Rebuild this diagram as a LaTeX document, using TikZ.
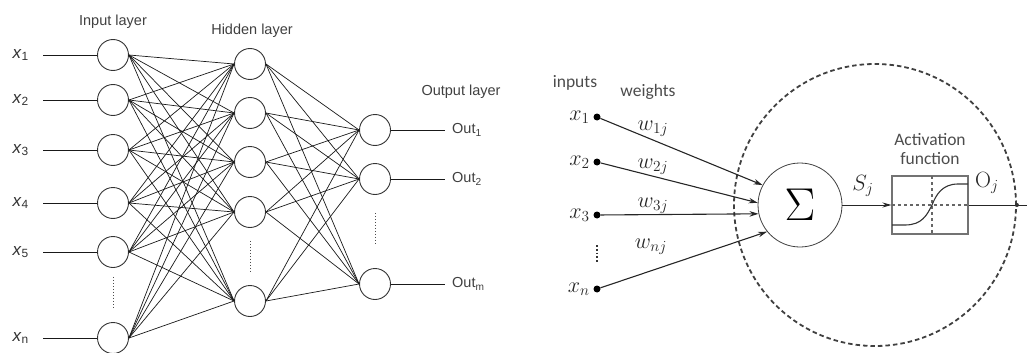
\documentclass[tikz,border=0pt]{standalone}
\usepackage{graphicx}
\usepackage{fontspec}
\setsansfont{Liberation Sans}
\newfontfamily\calfont{Carlito}
\usetikzlibrary{arrows.meta}

% simboli matematici ingranditi
\newcommand{\mat}[1]{\scalebox{1.28}{$#1$}}

\tikzset{
    neurone/.style={circle, draw=black!80, line width=0.9pt, minimum size=31pt, inner sep=0pt, fill=white},
    peso/.style={line width=0.7pt, black!90},
    etichetta/.style={font=\sffamily\fontsize{14.5}{15}\selectfont, text=black!75, inner sep=1pt},
    ingresso/.style={font=\sffamily\fontsize{17}{17}\selectfont, text=black!80, inner sep=1pt},
    testodx/.style={font=\calfont\fontsize{17.5}{19}\selectfont, text=black!70, inner sep=1pt},
    mate/.style={font=\fontsize{17.28}{18}\selectfont, text=black!85, inner sep=1pt},
    punto/.style={circle, fill=black, minimum size=7pt, inner sep=0pt},
    freccia/.style={line width=1.1pt, black!85, -{Stealth[length=9pt,width=5.5pt]}},
}

\begin{document}
\begin{tikzpicture}[x=1pt, y=-1pt]
    \useasboundingbox (0,0) rectangle (1027,353);

    % Rete a strati (sinistra)
    \foreach \y [count=\i] in {55,100,150,203,252,338}
        \node[neurone] (in\i) at (113,\y) {};
    \foreach \y [count=\i] in {64,113,162,212,301}
        \node[neurone] (hid\i) at (250,\y) {};
    \foreach \y [count=\i] in {130,179,284}
        \node[neurone] (out\i) at (375,\y) {};

    % Titoli degli strati
    \node[etichetta] (tin) at (113,22) {Input layer};
    \node[etichetta] (thid) at (252,31) {Hidden layer};
    \node[etichetta] (tout) at (461,92) {Output layer};

    % Ingressi x_i
    \foreach \lab/\y [count=\i] in {1/55,2/100,3/150,4/203,5/252,n/338} {
        \node[ingresso, anchor=east] (xs\i) at (30,\y) {\textit{x}\textsubscript{\lab}};
        \draw[peso, line width=0.9pt] ([xshift=13pt]xs\i.east) -- (in\i.west);
    }

    % Uscite
    \foreach \lab/\y [count=\i] in {1/130,2/179,m/284} {
        \node[etichetta, anchor=west] (os\i) at (451,\y) {Out\textsubscript{\lab}};
        \draw[peso, line width=0.9pt] (out\i.east) -- ([xshift=-6pt]os\i.west);
    }

    % Collegamenti completi
    \foreach \i in {1,...,6}
        \foreach \j in {1,...,5}
            \draw[peso] (in\i.east) -- (hid\j.west);
    \foreach \j in {1,...,5}
        \foreach \k in {1,...,3}
            \draw[peso] (hid\j.east) -- (out\k.west);

    % Puntini verticali
    \draw[dotted, line width=1pt, black!70, shorten <=9pt, shorten >=13pt] (in5.south) -- (in6.north);
    \draw[dotted, line width=1pt, black!70, shorten <=13pt, shorten >=13pt] (hid4.south) -- (hid5.north);
    \draw[dotted, line width=1pt, black!70, shorten <=18pt, shorten >=24pt] (out2.south) -- (out3.north);

    % Neurone singolo (destra)
    \node[circle, draw=black!75, line width=1.8pt, dash pattern=on 4.5pt off 3pt, minimum size=282pt] (cerchio) at (875,205) {};
    \node[circle, draw=black!75, line width=0.8pt, minimum size=84pt, inner sep=0pt, fill=white] (sigma) at (800,205)
        {\fontsize{24.88}{25}\selectfont\scalebox{1.85}{$\Sigma$}};

    \node[testodx] (tinput) at (575,83) {inputs};
    \node[testodx] (tpesi) at (648,92) {weights};

    % Ingressi con pesi
    \foreach \lab/\y/\ang [count=\i] in {1/117/152,2/162/177,3/215/192,n/289/219} {
        \node[punto] (d\i) at (597,\y) {};
        \node[mate, anchor=east] (xd\i) at (591,\y) {\mat{x_{\lab}}};
        \draw[freccia] (d\i) -- (sigma.\ang);
    }
    \node[mate] (w1) at (653,129) {\mat{w_{1j}}};
    \node[mate] (w2) at (653,167) {\mat{w_{2j}}};
    \node[mate] (w3) at (653,206) {\mat{w_{3j}}};
    \node[mate] (wn) at (651,247) {\mat{w_{nj}}};
    \draw[dotted, line width=1.8pt, black!80] (597,245) -- (597,263);

    % Funzione di attivazione
    \node[draw=black!55, line width=1.1pt, minimum width=76pt, minimum height=58pt, inner sep=0pt] (box) at (930,205) {};
    \node[testodx, align=center] (tatt) at (930,149) {Activation\\function};
    \begin{scope}[shift={(box.center)}]
        \draw[black!60, line width=1.1pt, dashed] (-38,0) -- (38,0);
        \draw[black!60, line width=1.1pt, dashed] (2,-29) -- (2,29);
        \draw[black!80, line width=1.1pt] (-38,20) -- (-25,20) .. controls (-8,20) and (-3,10) .. (2,0)
            .. controls (6,-10) and (12,-21) .. (28,-21) -- (38,-21);
    \end{scope}

    % Segnale e uscita
    \draw[line width=0.9pt, black!85, -{Stealth[length=9pt,width=5pt]}] (sigma.east) -- (box.west);
    \node[mate] (sj) at (863,186) {\mat{S_j}};
    \node[mate] (oj) at (987,183) {\mat{\mathrm{O}_j}};
    \coordinate (fine) at (1027,205);
    \draw[line width=0.9pt, black!85] (box.east) -- (fine);
    \node[circle, fill=black!80, minimum size=4pt, inner sep=0pt] (nodo) at (cerchio.east) {};
\end{tikzpicture}
\end{document}
